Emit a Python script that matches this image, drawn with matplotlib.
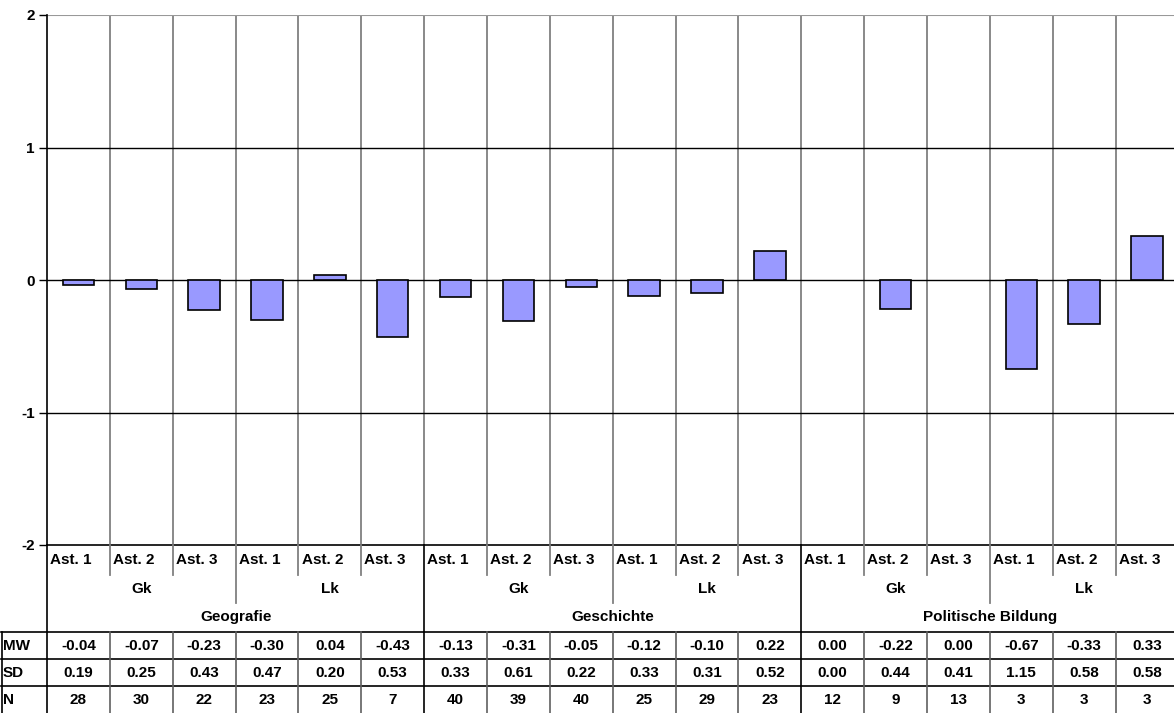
import matplotlib
matplotlib.use("Agg")
import matplotlib.pyplot as plt
from matplotlib.transforms import blended_transform_factory
from matplotlib.lines import Line2D

plt.rcParams['font.family'] = ['Liberation Sans', 'DejaVu Sans']

subjects = ["Geografie", "Geschichte", "Politische Bildung"]
courses = ["Gk", "Lk"]
stages = ["Ast. 1", "Ast. 2", "Ast. 3"]

mw = [-0.04, -0.07, -0.23, -0.30, 0.04, -0.43,
      -0.13, -0.31, -0.05, -0.12, -0.10, 0.22,
      0.00, -0.22, 0.00, -0.67, -0.33, 0.33]
sd = [0.19, 0.25, 0.43, 0.47, 0.20, 0.53,
      0.33, 0.61, 0.22, 0.33, 0.31, 0.52,
      0.00, 0.44, 0.41, 1.15, 0.58, 0.58]
n = [28, 30, 22, 23, 25, 7,
     40, 39, 40, 25, 29, 23,
     12, 9, 13, 3, 3, 3]

FS = 11
W, H = 1174, 713
fig = plt.figure(figsize=(W / 100, H / 100), dpi=100)

left_px, top_px, bottom_px = 47, 15, 545
cat_w = 62.86
ncat = len(mw)
right_px = left_px + cat_w * ncat
ax = fig.add_axes([left_px / W, 1 - bottom_px / H,
                   (right_px - left_px) / W, (bottom_px - top_px) / H])

xs = [i + 0.5 for i in range(ncat)]
lws = [1.2 if v != 0 else 0 for v in mw]
ax.bar(xs, mw, width=0.5, color="#9999FF", edgecolor="black", linewidth=lws, zorder=3)

ax.set_xlim(0, ncat)
ax.set_ylim(-2, 2)
ax.set_yticks([-2, -1, 0, 1, 2])
ax.set_yticklabels(["-2", "-1", "0", "1", "2"], fontsize=FS, fontweight="bold")
ax.tick_params(axis="y", length=6, width=1, pad=3)
ax.set_xticks([])
for y in [-1, 0, 1]:
    ax.axhline(y, color="black", linewidth=1, zorder=2)
ax.axhline(2, color="#999999", linewidth=1.5, zorder=2)
for i in range(1, ncat):
    ax.axvline(i, color="#808080", linewidth=1.3, zorder=1)
for s in ["top", "right", "bottom"]:
    ax.spines[s].set_visible(False)
ax.spines["left"].set_linewidth(1.2)

tr = blended_transform_factory(ax.transData, fig.transFigure)
def fy(p):
    return 1 - p / H

def vline(x, y0, y1, color="#808080", lw=1.3):
    fig.add_artist(Line2D([x, x], [fy(y0), fy(y1)], transform=tr, color=color, linewidth=lw))

# bottom axis line
fig.add_artist(Line2D([0, ncat], [fy(bottom_px), fy(bottom_px)], transform=tr, color="black", linewidth=1.2))
# left axis extension through label area and table
vline(0, bottom_px, H, color="black", lw=1.2)

# separators in category label area
for i in range(1, ncat):
    if i % 6 == 0:
        vline(i, bottom_px, 632, color="black", lw=1.2)
    elif i % 3 == 0:
        vline(i, bottom_px, 603)
    else:
        vline(i, bottom_px, 575)

# category labels
for i in range(ncat):
    fig.text(0, 0, stages[i % 3], transform=tr, fontsize=FS, fontweight="bold",
             ha="left", va="center").set_position((i + 0.05, fy(560)))
for j in range(ncat // 3):
    fig.text(0, 0, courses[j % 2], transform=tr, fontsize=FS, fontweight="bold",
             ha="center", va="center").set_position((j * 3 + 1.5, fy(589)))
for k, s in enumerate(subjects):
    fig.text(0, 0, s, transform=tr, fontsize=FS, fontweight="bold",
             ha="center", va="center").set_position((k * 6 + 3, fy(617)))

# data table
row_lines = [632, 659, 686]
for yl in row_lines:
    fig.add_artist(Line2D([1 / W, 1.0], [fy(yl), fy(yl)], color="black", linewidth=1.2))
fig.add_artist(Line2D([1.5 / W, 1.5 / W], [fy(632), 0], color="black", linewidth=1.2))
for i in range(1, ncat):
    vline(i, 632, H, color="black" if i % 6 == 0 else "#606060", lw=1.2)

row_names = ["MW", "SD", "N"]
row_vals = [[f"{v:.2f}" for v in mw], [f"{v:.2f}" for v in sd], [str(v) for v in n]]
row_y = [646, 673, 700]
for name, vals, yc in zip(row_names, row_vals, row_y):
    fig.text(3 / W, fy(yc), name, fontsize=FS, fontweight="bold", ha="left", va="center")
    for i, v in enumerate(vals):
        fig.text(0, 0, v, transform=tr, fontsize=FS, fontweight="bold",
                 ha="center", va="center").set_position((i + 0.5, fy(yc)))

fig.savefig("out.png", dpi=100)
